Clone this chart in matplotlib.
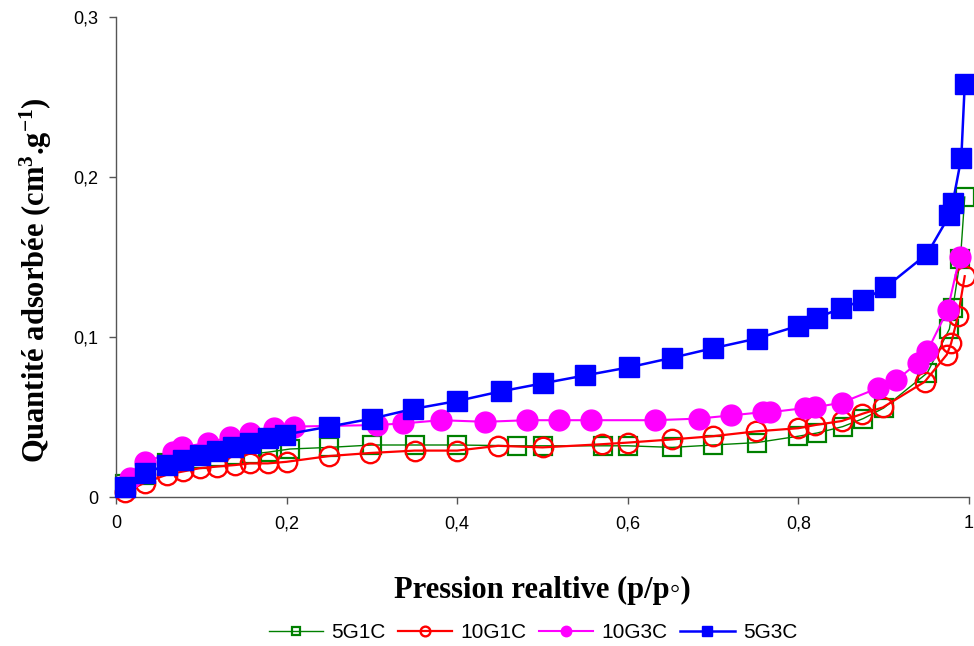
import matplotlib
matplotlib.use("Agg")
import matplotlib.pyplot as plt

plt.rcParams['mathtext.default'] = 'regular'

# 5G1C (green open squares)
x_5g1c = [0.011, 0.034, 0.060, 0.080, 0.100, 0.120, 0.140, 0.160, 0.178, 0.204, 0.25, 0.30, 0.35, 0.40,
          0.47, 0.50, 0.571, 0.60, 0.652, 0.70, 0.751, 0.80, 0.822, 0.852, 0.876, 0.90, 0.951, 0.977,
          0.981, 0.990, 0.995]
y_5g1c = [0.008, 0.014, 0.021, 0.023, 0.024, 0.025, 0.026, 0.027, 0.028, 0.030, 0.031, 0.0325, 0.0325, 0.0325,
          0.032, 0.032, 0.032, 0.032, 0.031, 0.0325, 0.034, 0.038, 0.040, 0.044, 0.049, 0.0556, 0.0775, 0.105,
          0.118, 0.149, 0.1875]

# 10G1C (red open circles)
x_10g1c = [0.011, 0.034, 0.060, 0.079, 0.098, 0.118, 0.140, 0.157, 0.178, 0.200, 0.25, 0.298, 0.35, 0.40,
           0.448, 0.50, 0.57, 0.60, 0.652, 0.70, 0.75, 0.80, 0.82, 0.851, 0.875, 0.899, 0.948, 0.974,
           0.979, 0.987, 0.995]
y_10g1c = [0.003, 0.009, 0.014, 0.016, 0.018, 0.019, 0.020, 0.021, 0.021, 0.022, 0.0256, 0.0275, 0.029, 0.029,
           0.032, 0.031, 0.033, 0.034, 0.036, 0.038, 0.041, 0.043, 0.045, 0.0475, 0.052, 0.056, 0.072, 0.089,
           0.096, 0.113, 0.138]

# 10G3C (magenta filled circles)
x_10g3c = [0.016, 0.034, 0.067, 0.077, 0.108, 0.134, 0.157, 0.185, 0.209, 0.306, 0.337, 0.381, 0.433,
           0.482, 0.519, 0.557, 0.632, 0.683, 0.721, 0.758, 0.767, 0.808, 0.819, 0.851, 0.893, 0.915,
           0.940, 0.951, 0.975, 0.989]
y_10g3c = [0.012, 0.022, 0.028, 0.031, 0.034, 0.0375, 0.040, 0.043, 0.044, 0.045, 0.046, 0.048, 0.047,
           0.048, 0.048, 0.048, 0.048, 0.049, 0.051, 0.053, 0.053, 0.0556, 0.056, 0.059, 0.068, 0.073,
           0.084, 0.091, 0.117, 0.150]

# 5G3C (blue filled squares)
x_5g3c = [0.011, 0.034, 0.060, 0.079, 0.098, 0.118, 0.137, 0.157, 0.178, 0.198, 0.25, 0.30, 0.348, 0.40,
          0.451, 0.50, 0.55, 0.601, 0.652, 0.70, 0.751, 0.80, 0.822, 0.85, 0.876, 0.902, 0.951, 0.977,
          0.981, 0.991, 0.995]
y_5g3c = [0.006, 0.015, 0.020, 0.023, 0.026, 0.029, 0.031, 0.034, 0.037, 0.039, 0.044, 0.049, 0.055, 0.060,
          0.066, 0.071, 0.076, 0.081, 0.087, 0.093, 0.099, 0.107, 0.112, 0.118, 0.123, 0.131, 0.152, 0.176,
          0.184, 0.212, 0.258]

x_ticks = [0, 0.2, 0.4, 0.6, 0.8, 1.0]
x_ticklabels = ["0", "0,2", "0,4", "0,6", "0,8", "1"]
y_ticks = [0, 0.1, 0.2, 0.3]
y_ticklabels = ["0", "0,1", "0,2", "0,3"]

fig = plt.figure(figsize=(9.74, 6.46), dpi=100)
ax = fig.add_axes([116/974, 1-497/646, (969-116)/974, (497-17)/646])

ax.plot(x_5g1c, y_5g1c, color='#008000', lw=1.0, marker='s', ms=12.5, mfc='none', mec='#008000', mew=1.6,
        label='5G1C', zorder=2)
ax.plot(x_10g1c, y_10g1c, color='#ff0000', lw=1.6, marker='o', ms=14, mfc='none', mec='#ff0000', mew=1.7,
        label='10G1C', zorder=3)
ax.plot(x_10g3c, y_10g3c, color='#ff00ff', lw=1.5, marker='o', ms=15, mfc='#ff00ff', mec='#ff00ff',
        label='10G3C', zorder=4)
ax.plot(x_5g3c, y_5g3c, color='#0000ff', lw=1.8, marker='s', ms=14, mfc='#0000ff', mec='#0000ff',
        label='5G3C', zorder=5)

ax.set_xlim(0, 1)
ax.set_ylim(0, 0.3)
ax.set_xticks(x_ticks)
ax.set_xticklabels(x_ticklabels, fontsize=13, family=['Liberation Sans'])
ax.set_yticks(y_ticks)
ax.set_yticklabels(y_ticklabels, fontsize=13, family=['Liberation Sans'])
for s in ['top', 'right']:
    ax.spines[s].set_visible(False)
for s in ['left', 'bottom']:
    ax.spines[s].set_color('#555555')
    ax.spines[s].set_linewidth(1.0)
ax.tick_params(direction='out', length=5, width=1, color='#555555', pad=8)
for ln in ax.lines:
    ln.set_clip_on(False)

fig.text(542/974, 1-590/646, "Pression realtive (p/p◦)", ha='center', va='center',
         fontsize=22, fontweight='bold', family=['Liberation Serif', 'DejaVu Serif'])
fig.text(36/974, 1-280/646, "Quantité adsorbée (cm$^{3}$.g$^{-1}$)", ha='center', va='center',
         rotation=90, fontsize=22, fontweight='bold', family=['Liberation Serif'])

leg = fig.legend(loc='center', bbox_to_anchor=(533/974, 1-633/646), ncol=4, frameon=False,
                 markerscale=0.5, handlelength=2.6, handletextpad=0.4, columnspacing=0.6,
                 prop={'family': 'Liberation Sans', 'size': 15})

fig.savefig('out.png', dpi=100)
